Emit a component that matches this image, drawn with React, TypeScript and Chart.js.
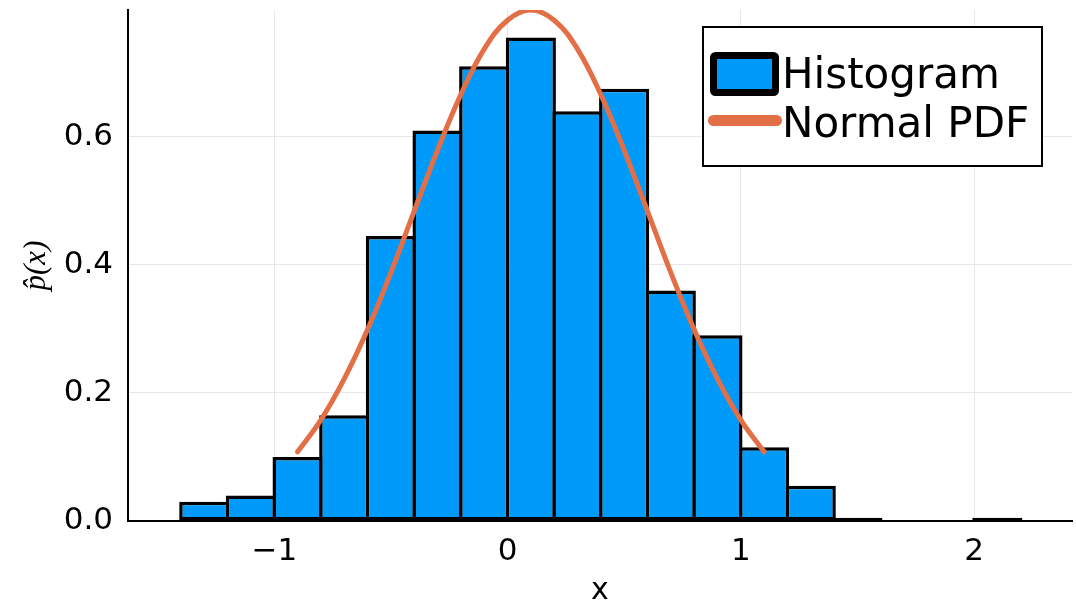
import React, { useEffect, useRef } from "react";
import { Chart, registerables } from "chart.js";

Chart.register(...registerables);

// Histogram bins (left edges, width 0.2) and normalized densities
const binWidth = 0.2;
const binStarts = [-1.4, -1.2, -1.0, -0.8, -0.6, -0.4, -0.2, 0.0, 0.2, 0.4, 0.6, 0.8, 1.0, 1.2, 1.4, 1.6, 1.8, 2.0];
const densities = [0.03, 0.04, 0.1, 0.165, 0.445, 0.61, 0.71, 0.755, 0.64, 0.675, 0.36, 0.29, 0.115, 0.055, 0.005, 0, 0, 0.005];

// Normal PDF curve
const pdfX = [-0.9, -0.8, -0.7, -0.6, -0.5, -0.4, -0.3, -0.2, -0.1, 0.0, 0.1, 0.2, 0.3, 0.4, 0.5, 0.6, 0.7, 0.8, 0.9, 1.0, 1.1];
const pdfY = [0.108, 0.158, 0.222, 0.299, 0.388, 0.484, 0.579, 0.666, 0.737, 0.782, 0.798, 0.782, 0.737, 0.666, 0.579, 0.484, 0.388, 0.299, 0.222, 0.158, 0.108];

const xTicks = [-1, 0, 1, 2];
const yTicks = [0, 0.2, 0.4, 0.6];

const seriesNames = ["Histogram", "Normal PDF"];
const barColor = "rgb(0,154,250)";
const lineColor = "rgb(227,111,71)";
const FONT = "'DejaVu Sans', sans-serif";

const legendPlugin = {
  id: "boxLegend",
  afterDraw(chart: any) {
    const { ctx, chartArea } = chart;
    const bw = 339;
    const bh = 139;
    const bx = chartArea.right - 30 - bw;
    const by = chartArea.top + 17;
    ctx.save();
    ctx.fillStyle = "#ffffff";
    ctx.fillRect(bx, by, bw, bh);
    ctx.lineWidth = 2;
    ctx.strokeStyle = "#000000";
    ctx.strokeRect(bx, by, bw, bh);

    // histogram swatch
    ctx.beginPath();
    if (ctx.roundRect) ctx.roundRect(bx + 10.5, by + 28.5, 62, 37, 2);
    else ctx.rect(bx + 10.5, by + 28.5, 62, 37);
    ctx.fillStyle = barColor;
    ctx.fill();
    ctx.lineWidth = 7;
    ctx.lineJoin = "round";
    ctx.strokeStyle = "#000000";
    ctx.stroke();

    // line swatch
    ctx.beginPath();
    ctx.moveTo(bx + 10.5, by + 93.5);
    ctx.lineTo(bx + 73.5, by + 93.5);
    ctx.lineWidth = 11;
    ctx.lineCap = "round";
    ctx.strokeStyle = lineColor;
    ctx.stroke();

    ctx.fillStyle = "#000000";
    ctx.font = `42px ${FONT}`;
    ctx.textBaseline = "alphabetic";
    ctx.textAlign = "left";
    ctx.fillText(seriesNames[0], bx + 79, by + 61);
    ctx.fillText(seriesNames[1], bx + 79, by + 110);
    ctx.restore();
  },
};

export default function App() {
  const ref = useRef<HTMLCanvasElement | null>(null);

  useEffect(() => {
    if (!ref.current) return;
    const barData = binStarts.map((s, i) => ({ x: s + binWidth / 2, y: densities[i] }));
    const lineData = pdfX.map((x, i) => ({ x, y: pdfY[i] }));

    const chart = new Chart(ref.current, {
      type: "bar",
      data: {
        datasets: [
          {
            type: "bar",
            label: seriesNames[0],
            data: barData,
            backgroundColor: barColor,
            borderColor: "#000000",
            borderWidth: 3.5,
            borderSkipped: false,
            categoryPercentage: 1,
            barPercentage: 1.075,
            order: 1,
          } as any,
          {
            type: "line",
            label: seriesNames[1],
            data: lineData,
            borderColor: lineColor,
            borderWidth: 5,
            borderCapStyle: "round",
            pointRadius: 0,
            tension: 0.4,
            fill: false,
            order: 0,
          } as any,
        ],
      },
      options: {
        responsive: false,
        animation: false,
        layout: { padding: { top: 10, right: 4, left: 0, bottom: 0 } },
        plugins: {
          legend: { display: false },
          tooltip: { enabled: false },
        },
        scales: {
          x: {
            type: "linear",
            min: -1.627,
            max: 2.42,
            offset: false,
            afterFit: (s: any) => {
              s.height = 83;
              s.paddingLeft = 0;
              s.paddingRight = 0;
            },
            afterBuildTicks: (s: any) => {
              s.ticks = xTicks.map((v) => ({ value: v }));
            },
            grid: { color: "#e8e8e8", lineWidth: 1, drawTicks: false, offset: false },
            border: { display: true, color: "#000000", width: 2 },
            ticks: {
              padding: 12,
              color: "#000000",
              font: { family: FONT, size: 31 },
              callback: (v: any) => (v < 0 ? "\u2212" + Math.abs(v) : String(v)),
            },
            title: {
              display: true,
              text: "x",
              color: "#000000",
              font: { family: FONT, size: 30, lineHeight: 1 },
              padding: { top: 0, bottom: -2 },
            },
          },
          y: {
            type: "linear",
            min: 0,
            max: 0.798,
            afterFit: (s: any) => {
              s.width = 128;
              s.paddingTop = 0;
              s.paddingBottom = 0;
            },
            afterBuildTicks: (s: any) => {
              s.ticks = yTicks.map((v) => ({ value: v }));
            },
            grid: { color: "#e8e8e8", lineWidth: 1, drawTicks: false, offset: false },
            border: { display: true, color: "#000000", width: 2 },
            ticks: {
              padding: 15,
              color: "#000000",
              font: { family: FONT, size: 31 },
              callback: (v: any) => Number(v).toFixed(1),
            },
            title: {
              display: true,
              text: "p\u0302(x)",
              color: "#000000",
              font: { family: "'Liberation Serif', serif", size: 31, style: "italic", lineHeight: 1.2 },
              padding: { top: 18, bottom: 0 },
            },
          },
        },
      },
      plugins: [legendPlugin],
    });
    return () => chart.destroy();
  }, []);

  return (
    <div style={{ position: "fixed", left: 0, top: 0, width: 1076, height: 604, background: "#ffffff" }}>
      <canvas ref={ref} width={1076} height={604} />
    </div>
  );
}
